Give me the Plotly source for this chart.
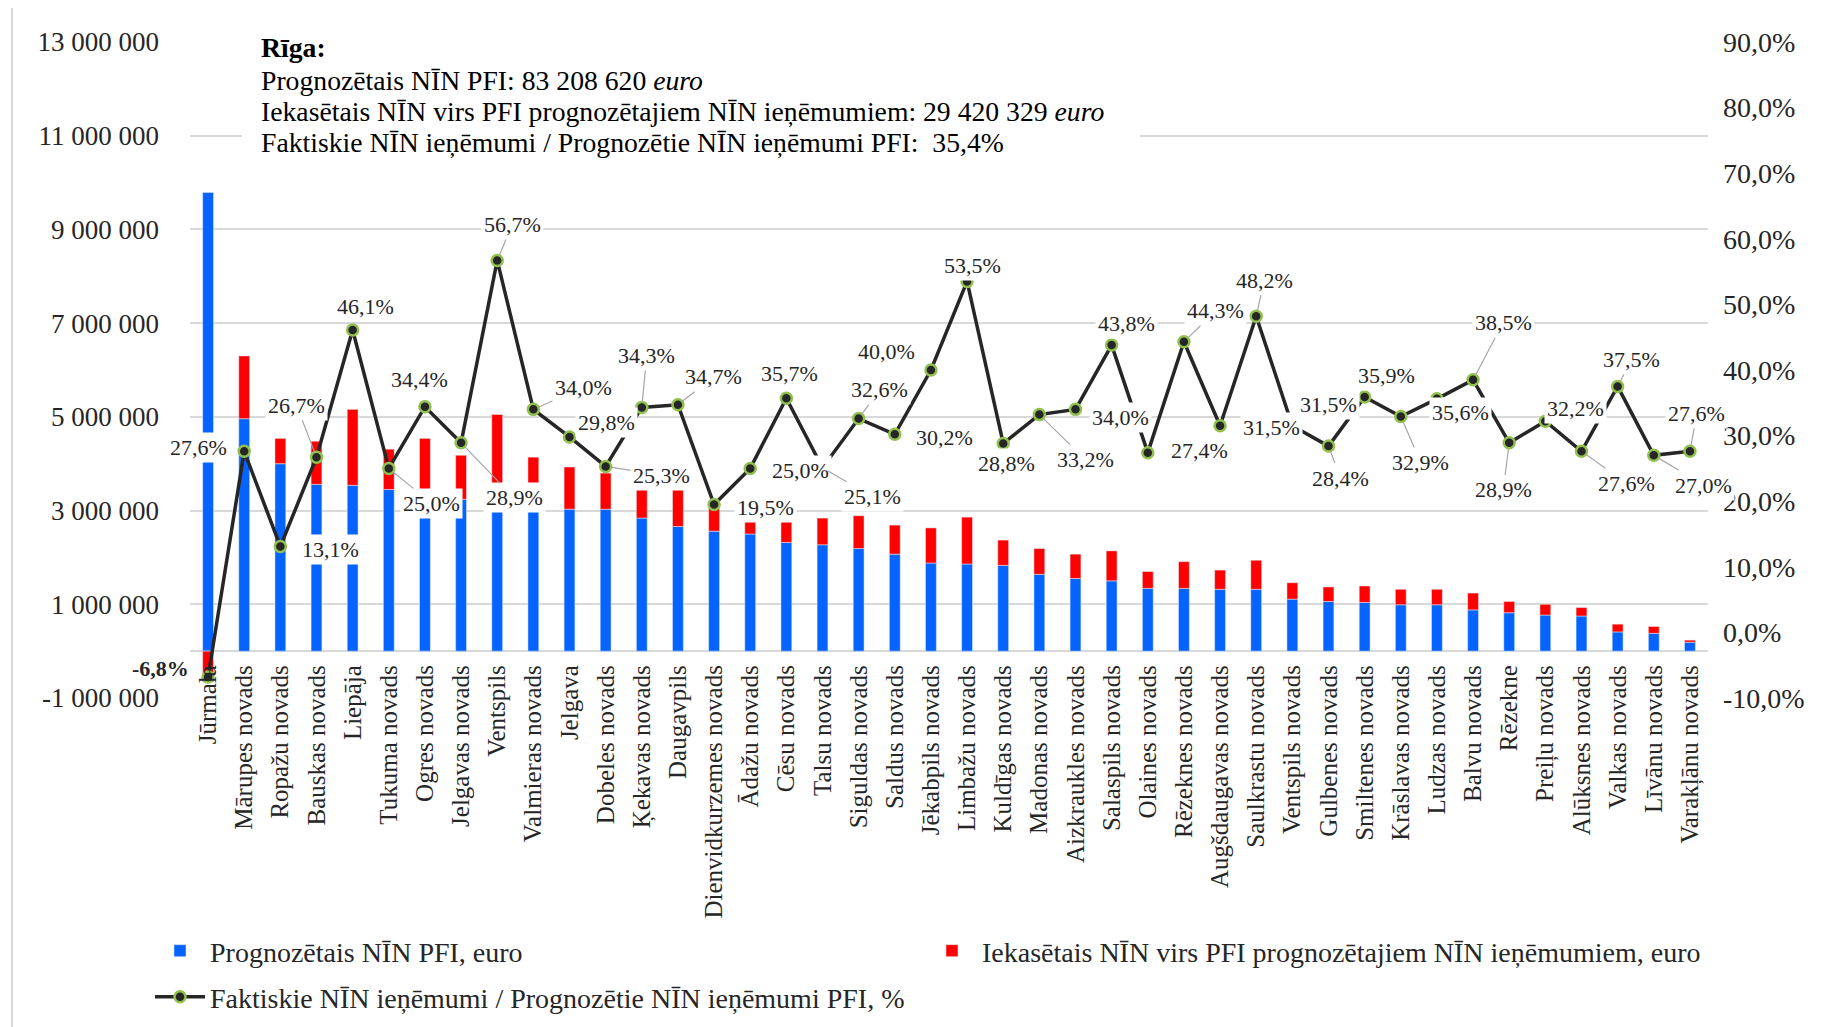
import plotly.graph_objects as go

# ---------------- data ----------------
categories = [
    "Jūrmala", "Mārupes novads", "Ropažu novads", "Bauskas novads", "Liepāja",
    "Tukuma novads", "Ogres novads", "Jelgavas novads", "Ventspils", "Valmieras novads",
    "Jelgava", "Dobeles novads", "Ķekavas novads", "Daugavpils", "Dienvidkurzemes novads",
    "Ādažu novads", "Cēsu novads", "Talsu novads", "Siguldas novads", "Saldus novads",
    "Jēkabpils novads", "Limbažu novads", "Kuldīgas novads", "Madonas novads",
    "Aizkraukles novads", "Salaspils novads", "Olaines novads", "Rēzeknes novads",
    "Augšdaugavas novads", "Saulkrastu novads", "Ventspils novads", "Gulbenes novads",
    "Smiltenes novads", "Krāslavas novads", "Ludzas novads", "Balvu novads", "Rēzekne",
    "Preiļu novads", "Alūksnes novads", "Valkas novads", "Līvānu novads", "Varakļānu novads",
]

forecast_pfi = [
    9790000, 4960000, 4000000, 3560000, 3540000, 3450000, 3380000, 3240000, 3220000, 3090000,
    3030000, 3030000, 2840000, 2660000, 2560000, 2500000, 2320000, 2270000, 2190000, 2070000,
    1880000, 1860000, 1830000, 1640000, 1550000, 1500000, 1340000, 1340000, 1320000, 1320000,
    1110000, 1060000, 1040000, 990000, 990000, 880000, 820000, 770000, 750000, 410000,
    380000, 190000,
]

collected_above = [
    -660000, 1340000, 540000, 920000, 1620000, 860000, 1160000, 940000, 1830000, 1050000,
    900000, 770000, 950000, 900000, 500000, 630000, 830000, 570000, 700000, 620000,
    750000, 1000000, 540000, 550000, 520000, 640000, 360000, 570000, 410000, 620000,
    350000, 310000, 350000, 330000, 330000, 360000, 240000, 230000, 180000, 166000,
    146000, 45000,
]

ratio_pct = [
    -6.8, 27.6, 13.1, 26.7, 46.1, 25.0, 34.4, 28.9, 56.7, 34.0,
    29.8, 25.3, 34.3, 34.7, 19.5, 25.0, 35.7, 25.1, 32.6, 30.2,
    40.0, 53.5, 28.8, 33.2, 34.0, 43.8, 27.4, 44.3, 31.5, 48.2,
    31.5, 28.4, 35.9, 32.9, 35.6, 38.5, 28.9, 32.2, 27.6, 37.5,
    27.0, 27.6,
]

left_tick_vals = [-1000000, 1000000, 3000000, 5000000, 7000000, 9000000, 11000000, 13000000]
left_tick_text = ["-1 000 000", "1 000 000", "3 000 000", "5 000 000", "7 000 000",
                  "9 000 000", "11 000 000", "13 000 000"]
right_tick_vals = [-10, 0, 10, 20, 30, 40, 50, 60, 70, 80, 90]
right_tick_text = ["-10,0%", "0,0%", "10,0%", "20,0%", "30,0%", "40,0%", "50,0%",
                   "60,0%", "70,0%", "80,0%", "90,0%"]

riga_lines = [
    "<b>Rīga:</b>",
    "Prognozētais NĪN PFI: 83 208 620 <i>euro</i>",
    "Iekasētais NĪN virs PFI prognozētajiem NĪN ieņēmumiem: 29 420 329 <i>euro</i>",
    "Faktiskie NĪN ieņēmumi / Prognozētie NĪN ieņēmumi PFI:  35,4%",
]

name_blue = "Prognozētais NĪN PFI, euro"
name_red = "Iekasētais NĪN virs PFI prognozētajiem NĪN ieņēmumiem, euro"
name_line = "Faktiskie NĪN ieņēmumi / Prognozētie NĪN ieņēmumi PFI, %"

# label placement (pixel offsets of label centre from point, leader line flag)
label_offsets = [
    (-48, -9, False), (-46, -4, False), (50, 3, False), (-20, -52, True), (13, -23, False),
    (43, 35, True), (-5, -27, False), (53, 55, True), (15, -36, True), (50, -22, True),
    (37, -14, False), (56, 9, True), (5, -52, True), (36, -28, True), (51, 3, False),
    (50, 2, False), (3, -25, False), (50, 29, True), (21, -29, True), (50, 3, False),
    (-44, -19, False), (5, -16, False), (3, 20, False), (46, 45, True), (45, 8, False),
    (15, -22, False), (52, -2, False), (32, -31, True), (51, 2, False), (8, -36, True),
    (36, -21, False), (12, 32, True), (22, -21, False), (20, 46, True), (24, 14, False),
    (30, -57, True), (-6, 47, True), (30, -13, False), (45, 32, True), (14, -27, True),
    (50, 30, True), (7, -38, True),
]

# ---------------- layout constants ----------------
W, H = 1821, 1027
OFF = 8  # page body margin
# target on-screen positions of plot area edges
S_LEFT, S_RIGHT, S_TOP, S_BOTTOM = 190, 1708, 42, 698
ML = S_LEFT - OFF
MT = S_TOP - OFF
MR = W - (S_RIGHT - OFF)
MB = H - (S_BOTTOM - OFF)
PW, PH = W - ML - MR, H - MT - MB
FONT = "Liberation Serif, Times New Roman, serif"
TXT = "#262626"


def px_x(p):
    return (p - OFF - ML) / PW


def px_y(p):
    return (H - MB - (p - OFF)) / PH


fig = go.Figure()

fig.add_trace(go.Bar(
    x=categories, y=forecast_pfi, name=name_blue, marker_color="#0563FF",
    width=0.3, legend="legend",
))
fig.add_trace(go.Bar(
    x=categories, y=collected_above, name=name_red, marker_color="#FF0000",
    width=0.3, legend="legend2",
))
fig.add_trace(go.Scatter(
    x=categories, y=ratio_pct, name=name_line, yaxis="y2", mode="lines+markers",
    line=dict(color="#262626", width=3.5),
    marker=dict(symbol="circle", size=11, color="#262626",
                line=dict(color="#92C050", width=2.5)),
    legend="legend3",
))

annotations = []
for cat, v, (dx, dy, lead) in zip(categories, ratio_pct, label_offsets):
    txt = f"{v:.1f}".replace(".", ",") + "%"
    if v < 0:
        txt = "<b>" + txt + "</b>"
    common = dict(x=cat, y=v, xref="x", yref="y2", text=txt,
                  font=dict(family=FONT, size=22, color=TXT),
                  bgcolor="white", borderpad=2)
    if lead:
        annotations.append(dict(**common, showarrow=True, arrowhead=0, arrowwidth=1.2,
                                arrowcolor="#A6A6A6", ax=dx, ay=dy, standoff=6))
    else:
        annotations.append(dict(**common, showarrow=False, xshift=dx, yshift=-dy))

for line_txt, yc in zip(riga_lines, [47.6, 80.1, 111.5, 142.9]):
    annotations.append(dict(
        x=px_x(259), y=px_y(yc), xref="paper", yref="paper", xanchor="left",
        yanchor="middle", text=line_txt, showarrow=False,
        font=dict(family=FONT, size=27.7, color="black"),
    ))

shapes = [
    dict(type="rect", xref="paper", yref="paper", x0=px_x(242), x1=px_x(1140),
         y0=px_y(162), y1=px_y(28), fillcolor="white", line=dict(width=0), layer="above"),
    dict(type="rect", xref="paper", yref="paper", x0=px_x(12), x1=px_x(1840),
         y0=px_y(1040), y1=px_y(6), line=dict(color="#D9D9D9", width=2), layer="below"),
]

legend_common = dict(orientation="h", xref="container", yref="container",
                     xanchor="left", yanchor="middle", bgcolor="rgba(0,0,0,0)",
                     font=dict(family=FONT, size=28, color=TXT), itemwidth=50)

fig.update_layout(
    width=W, height=H,
    margin=dict(l=ML, r=MR, t=MT, b=MB, autoexpand=False),
    paper_bgcolor="white", plot_bgcolor="white",
    barmode="relative",
    font=dict(family=FONT, color=TXT),
    xaxis=dict(type="category", anchor="free", position=1 / 14, showgrid=False,
               showline=False, ticks="", tickangle=-90, ticklabelstandoff=8,
               tickfont=dict(family=FONT, size=25, color=TXT), range=[-0.5, 41.5]),
    yaxis=dict(range=[-1000000, 13000000], tickvals=left_tick_vals, ticktext=left_tick_text,
               showgrid=True, gridcolor="#D9D9D9", gridwidth=1.5,
               zeroline=True, zerolinecolor="#D9D9D9", zerolinewidth=1.5,
               showline=False, ticks="", ticklabelstandoff=30,
               tickfont=dict(family=FONT, size=27, color=TXT)),
    yaxis2=dict(range=[-10, 90], overlaying="y", side="right", tickvals=right_tick_vals,
                ticktext=right_tick_text, showgrid=False, zeroline=False, showline=False,
                ticks="", ticklabelstandoff=14,
                tickfont=dict(family=FONT, size=28, color=TXT)),
    legend=dict(**legend_common, x=(150 - OFF) / W, y=1 - (951 - OFF) / H),
    legend2=dict(**legend_common, x=(922 - OFF) / W, y=1 - (951 - OFF) / H),
    legend3=dict(**legend_common, x=(150 - OFF) / W, y=1 - (997 - OFF) / H),
    annotations=annotations,
    shapes=shapes,
    showlegend=True,
)

fig.write_html("out.html")
